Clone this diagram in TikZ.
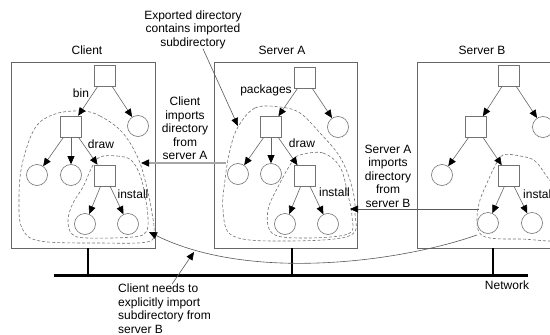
\documentclass[tikz,border=0pt]{standalone}
\usepackage{fontspec}
\setmainfont{Liberation Sans}
\usetikzlibrary{arrows.meta}
\begin{document}
\begin{tikzpicture}[x=1pt,y=-1pt,
  lbl/.style={font=\fontsize{12}{13.5}\selectfont, inner sep=0pt, align=center},
  sq/.style={draw=black!55, line width=0.6pt, minimum size=21pt, inner sep=0pt},
  leaf/.style={circle, draw=black!55, line width=0.6pt, minimum size=21pt, inner sep=0pt},
  tip/.style={-{Triangle[length=8pt,width=7pt,color=black]}},
  treeedge/.style={draw=black!60, line width=0.6pt, tip},
  hostbox/.style={draw=black!60, line width=0.7pt, minimum height=186pt, inner sep=0pt},
  blob/.style={draw=black!55, dash pattern=on 3pt off 2pt, line width=0.6pt},
  callout/.style={draw=black!65, line width=0.6pt, tip},
  netline/.style={line width=3pt, black},
  stub/.style={line width=2.5pt, black}]
\clip (0,0) rectangle (550,335);
\fill[white] (0,0) rectangle (550,335);

% host boxes
\node[hostbox, minimum width=144pt] (client) at (83,155) {};
\node[hostbox, minimum width=143pt] (srvA) at (285.5,155) {};
\node[hostbox, minimum width=143pt] (srvB) at (488.5,155) {};
\node[lbl] (clientlbl) at (87,50) {Client};
\node[lbl] (srvAlbl) at (282,50) {Server A};
\node[lbl] (srvBlbl) at (482,50) {Server B};

% network
\coordinate (netL) at (54,275);
\coordinate (netR) at (528,275);
\draw[netline] (netL) -- (netR);
\draw[stub] ([xshift=5pt]client.south) -- ([xshift=5pt]client.south |- netL);
\draw[stub] ([xshift=6.5pt]srvA.south) -- ([xshift=6.5pt]srvA.south |- netL);
\draw[stub] ([xshift=4.5pt]srvB.south) -- ([xshift=4.5pt]srvB.south |- netL);
\node[lbl] (netlbl) at (507,285) {Network};

% dashed groups
\draw[blob] plot[smooth cycle, tension=0.6] coordinates {(82,111) (100,116) (122,132) (138,158) (147,188) (152,213) (154,232) (147,242) (100,243) (40,241) (22,228) (19,200) (22,165) (35,128) (55,114)};
\draw[blob] plot[smooth cycle, tension=0.6] coordinates {(100,157) (117,156) (131,160) (140,175) (145,195) (148,218) (146,232) (133,237) (87,238) (72,234) (68,220) (73,203) (83,187) (92,167)};
\draw[blob] plot[smooth cycle, tension=0.6] coordinates {(238,127) (255,108) (280,107) (300,113) (320,133) (340,157) (352,187) (355,213) (349,236) (283,241) (233,236) (223,210) (225,180) (230,150)};
\draw[blob] plot[smooth cycle, tension=0.6] coordinates {(300,155) (323,153) (340,167) (348,195) (352,217) (348,234) (300,238) (272,233) (268,210) (280,183) (292,162)};
\draw[blob] plot[smooth cycle, tension=0.6] coordinates {(503,155) (520,156) (535,161) (548,178) (565,200) (570,238) (520,239) (490,238) (479,232) (477,217) (480,200) (487,183) (495,166)};

% client tree
\node[sq] (cR) at (105,75.5) {};
\node[leaf] (cRR) at (138,126) {};
\node[sq] (cBin) at (71,126.5) {};
\node[leaf] (cL1) at (37,175) {};
\node[leaf] (cL2) at (71,175) {};
\node[sq] (cDraw) at (105,175.5) {};
\node[leaf] (cI1) at (85,224) {};
\node[leaf] (cI2) at (128,224) {};
\foreach \a/\b in {cR/cBin, cR/cRR, cBin/cL1, cBin/cL2, cBin/cDraw, cDraw/cI1, cDraw/cI2}
  \draw[treeedge] (\a) -- (\b);
\node[lbl] (cbinlbl) at (81,93) {bin};
\node[lbl] (cdrawlbl) at (101,144) {draw};
\node[lbl] (cinstlbl) at (133,194) {install};

% server A tree
\node[sq] (aR) at (305,77.5) {};
\node[leaf] (aRR) at (338,127) {};
\node[sq] (aPk) at (271,127) {};
\node[leaf] (aL1) at (238,174) {};
\node[leaf] (aL2) at (271,174) {};
\node[sq] (aDraw) at (305,176) {};
\node[leaf] (aI1) at (285,224) {};
\node[leaf] (aI2) at (328,224) {};
\foreach \a/\b in {aR/aPk, aR/aRR, aPk/aL1, aPk/aL2, aPk/aDraw, aDraw/aI1, aDraw/aI2}
  \draw[treeedge] (\a) -- (\b);
\node[lbl] (apklbl) at (266,90) {packages};
\node[lbl] (adrawlbl) at (302,143) {draw};
\node[lbl] (ainstlbl) at (334.5,192) {install};

% server B tree
\node[sq] (bR) at (509,75.5) {};
\node[leaf] (bRR) at (543,127) {};
\node[sq] (bM) at (476,127) {};
\node[leaf] (bL1) at (442,175) {};
\node[sq] (bInst) at (509,176) {};
\node[leaf] (bI1) at (488,223) {};
\node[leaf] (bI2) at (532,223) {};
\foreach \a/\b in {bR/bM, bR/bRR, bM/bL1, bM/bInst, bInst/bI1, bInst/bI2}
  \draw[treeedge] (\a) -- (\b);
\node[lbl, anchor=west] (binstlbl) at (523,194) {install};

% callout texts
\node[lbl] (exported) at (193,29.5) {Exported directory\\contains imported\\subdirectory};
\node[lbl] (climp) at (185,128.5) {Client\\imports\\directory\\from\\server A};
\node[lbl] (aimp) at (388,176) {Server A\\imports\\directory\\from\\server B};
\node[lbl, align=left, anchor=west] (needs) at (118,308.5) {Client needs to\\explicitly import\\subdirectory from\\server B};

% callout connectors
\coordinate (aBigTL) at (238,126);
\coordinate (aBigL) at (226,163);
\coordinate (cBigR) at (141,163);
\coordinate (bBlobL) at (478.5,209);
\coordinate (aInR) at (350,209);
\coordinate (bBlobBL) at (477,235);
\coordinate (cInBR) at (149,232);
\coordinate (curvePt) at (194,252);
\draw[callout] ([xshift=10pt]exported.south) -- (aBigTL);
\draw[callout, draw=black!35, line width=1.3pt] (aBigL) -- (cBigR);
\draw[callout] (bBlobL) -- (aInR);
\draw[callout] (bBlobBL) .. controls (400,262) and (250,282) .. (cInBR);
\draw[callout] ([xshift=54pt,yshift=-0.5pt]needs.north west) -- (curvePt);
\end{tikzpicture}
\end{document}
